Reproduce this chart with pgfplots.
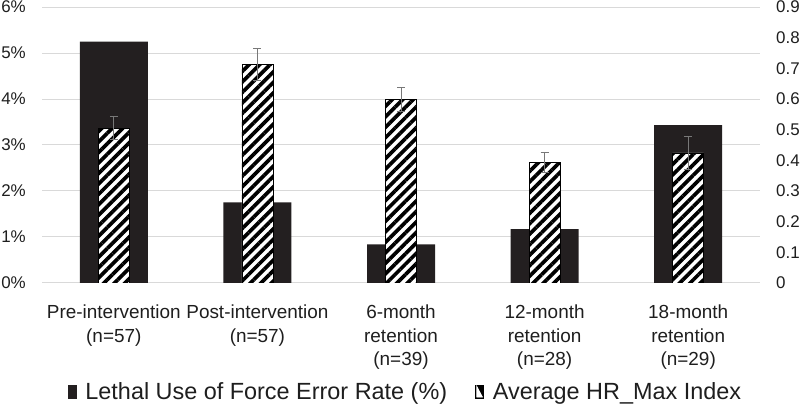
\documentclass[border=0pt]{standalone}
\usepackage{pgfplots}
\pgfplotsset{compat=1.18}
\usepackage{pgfplotstable}
\usepackage{fontspec}
\setmainfont{Liberation Sans}
\usetikzlibrary{patterns.meta}
\definecolor{barblack}{RGB}{35,31,32}
\definecolor{gridgray}{RGB}{217,217,217}
\definecolor{errgray}{RGB}{120,120,120}
\definecolor{txt}{RGB}{30,30,30}

\pgfplotstableread{
x err hr hrerr
0 5.25 0.505 0.038
1 1.75 0.713 0.052
2 0.84 0.599 0.040
3 1.17 0.392 0.033
4 3.43 0.424 0.055
}\data

\begin{document}
\begin{tikzpicture}
\path[use as bounding box] (0,0) rectangle (800bp,408bp);
\pgfplotsset{
  base/.style={
    scale only axis, width=718bp, height=276bp,
    at={(42bp,125bp)}, anchor=south west,
    xmin=-0.5, xmax=4.5,
    axis line style={draw=none},
    tick style={draw=none},
    yticklabel style={font=\fontsize{17}{20}\selectfont, text=txt, inner sep=0pt},
  }
}
\begin{axis}[base,
  ymin=0, ymax=6,
  ytick={0,1,2,3,4,5,6},
  yticklabels={0\%,1\%,2\%,3\%,4\%,5\%,6\%},
  yticklabel style={anchor=east, xshift=-16bp},
  ymajorgrids, grid style={gridgray, line width=1bp},
  xtick={0,1,2,3,4},
  xticklabels={{Pre-intervention\\(n=57)},{Post-intervention\\(n=57)},{6-month\\retention\\(n=39)},{12-month\\retention\\(n=28)},{18-month\\retention\\(n=29)}},
  xticklabel style={font=\fontsize{19}{24}\selectfont, text=txt, align=center, anchor=north, inner sep=0pt, yshift=-17bp},
  ybar, bar width=68bp,
]
\addplot[ybar, bar shift=0pt, fill=barblack, draw=none] table[x=x,y=err]{\data};
\end{axis}
\begin{axis}[base,
  ymin=0, ymax=0.9,
  axis y line*=right,
  hide x axis,
  ytick={0,0.1,0.2,0.3,0.4,0.5,0.6,0.7,0.8,0.9},
  yticklabels={0,0.1,0.2,0.3,0.4,0.5,0.6,0.7,0.8,0.9},
  yticklabel style={anchor=west, xshift=16bp},
  legend columns=2,
  legend style={at={(0.036,-0.394)}, anchor=west, draw=none, fill=none, inner sep=0pt,
    nodes={inner sep=0pt},
    font=\fontsize{23.5}{26}\selectfont, text=txt,
    /tikz/every odd column/.append style={column sep=9bp},
    /tikz/every even column/.append style={column sep=28bp},
    legend cell align=left},
]
\addlegendimage{legend image code/.code={\fill[barblack] (0bp,-6.5bp) rectangle (8bp,6.5bp);}}
\addlegendentry{Lethal Use of Force Error Rate (\%)}
\addplot[ybar, bar width=31bp, bar shift=0pt,
  preaction={fill=white}, pattern={Lines[angle=45,distance=7.4bp,line width=3.7bp]}, pattern color=black,
  draw=black, line width=0.8bp,
  legend image code/.code={\fill[black] (0bp,-6.5bp) rectangle (8bp,6.5bp); \fill[white] (1.2bp,-5.3bp) -- (6.8bp,-5.3bp) -- (1.2bp,5.3bp) -- cycle;},
  error bars/.cd, y dir=both, y explicit,
  error bar style={errgray, line width=0.9bp},
  error mark options={rotate=90, errgray, mark size=4bp, line width=0.9bp},
] table[x=x,y=hr,y error=hrerr]{\data};
\addlegendentry{Average HR\_Max Index}
\end{axis}
\end{tikzpicture}
\end{document}
